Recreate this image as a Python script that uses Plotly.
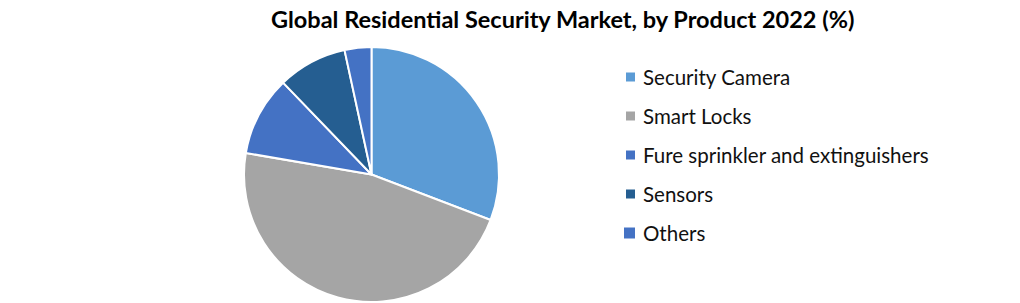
import plotly.graph_objects as go

title = "Global Residential Security Market, by Product 2022 (%)"
labels = ["Security Camera", "Smart Locks", "Fure sprinkler and extinguishers", "Sensors", "Others"]
values = [30.8, 46.9, 10.1, 8.8, 3.4]
colors = ["#5B9BD5", "#A5A5A5", "#4472C4", "#255E91", "#4472C4"]

W, H = 1020, 303
FONT = "Lato"

fig = go.Figure()
fig.add_trace(go.Pie(
    labels=labels, values=values, sort=False, direction="clockwise", rotation=0,
    marker=dict(colors=colors, line=dict(color="white", width=2)),
    textinfo="none", hoverinfo="label+percent", showlegend=False,
    domain=dict(x=[244 / W, 499 / W], y=[1 - 302 / H, 1 - 47 / H]),
))

# legend drawn from the category list
row_y = [77, 116, 155, 194, 233]
sizes = [9, 9, 9, 9, 11]
shapes = []
annotations = []
for lab, col, yc, sz in zip(labels, colors, row_y, sizes):
    shapes.append(dict(type="rect", xref="paper", yref="paper",
                       x0=(635 - sz) / W, x1=635 / W,
                       y0=1 - (yc + sz / 2) / H, y1=1 - (yc - sz / 2) / H,
                       fillcolor=col, line=dict(width=0)))
    annotations.append(dict(text=lab, xref="paper", yref="paper",
                            x=641 / W, y=1 - yc / H, xanchor="left", yanchor="middle",
                            showarrow=False, font=dict(family=FONT, size=20.5, color="#111111")))

annotations.append(dict(text="<b>" + title + "</b>", xref="paper", yref="paper",
                        x=562 / W, y=1 - 19 / H, xanchor="center", yanchor="middle",
                        showarrow=False, font=dict(family=FONT, size=23.5, color="black")))

fig.update_layout(
    width=W, height=H, margin=dict(l=0, r=0, t=0, b=0),
    paper_bgcolor="white", plot_bgcolor="white",
    shapes=shapes, annotations=annotations,
    font=dict(family=FONT),
)

fig.write_html("out.html")
